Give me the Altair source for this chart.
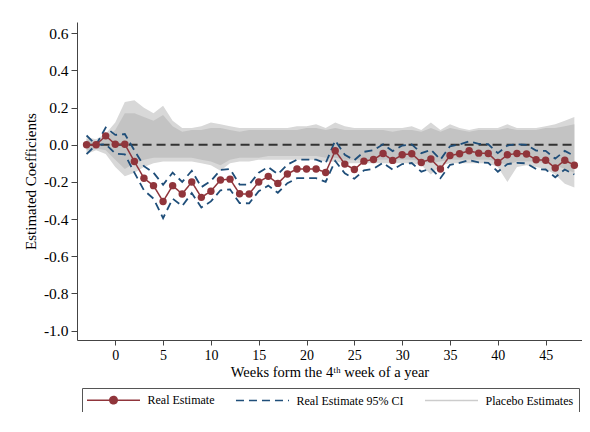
import altair as alt
import pandas as pd

# ---------------- data ----------------
weeks = list(range(-3, 49))

real_estimate = [0.0, 0.0, 0.048, 0.003, 0.003, -0.09, -0.18, -0.22, -0.305, -0.22,
                 -0.265, -0.20, -0.283, -0.25, -0.19, -0.185, -0.264, -0.265, -0.20, -0.17,
                 -0.208, -0.157, -0.13, -0.13, -0.13, -0.149, -0.032, -0.104, -0.133, -0.088,
                 -0.079, -0.047, -0.084, -0.054, -0.048, -0.095, -0.077, -0.13, -0.058, -0.048,
                 -0.032, -0.045, -0.047, -0.095, -0.054, -0.047, -0.05, -0.081, -0.083, -0.125,
                 -0.083, -0.11]

ci_upper = [0.05, 0.0, 0.093, 0.053, 0.058, -0.03, -0.115, -0.15, -0.215, -0.15,
            -0.20, -0.14, -0.228, -0.195, -0.135, -0.13, -0.214, -0.215, -0.15, -0.12,
            -0.158, -0.107, -0.08, -0.08, -0.08, -0.099, 0.023, -0.054, -0.083, -0.038,
            -0.029, 0.003, -0.034, -0.004, 0.002, -0.045, -0.027, -0.08, -0.008, 0.002,
            0.018, 0.005, 0.003, -0.045, -0.004, 0.003, 0.0, -0.031, -0.033, -0.075,
            -0.033, -0.06]

ci_lower = [-0.05, 0.0, 0.003, -0.047, -0.052, -0.15, -0.245, -0.29, -0.395, -0.29,
            -0.33, -0.26, -0.338, -0.305, -0.245, -0.24, -0.314, -0.315, -0.25, -0.22,
            -0.258, -0.207, -0.18, -0.18, -0.18, -0.199, -0.087, -0.154, -0.183, -0.138,
            -0.129, -0.097, -0.134, -0.104, -0.098, -0.145, -0.127, -0.18, -0.108, -0.098,
            -0.082, -0.095, -0.097, -0.145, -0.104, -0.097, -0.10, -0.131, -0.133, -0.175,
            -0.133, -0.16]

# placebo estimates: outer fringe (max/min) and dense band (hi/lo)
placebo_max = [0.04, 0.03, 0.06, 0.12, 0.23, 0.24, 0.20, 0.17, 0.21, 0.13,
               0.09, 0.09, 0.10, 0.12, 0.11, 0.10, 0.09, 0.09, 0.09, 0.09,
               0.09, 0.09, 0.10, 0.10, 0.11, 0.09, 0.12, 0.10, 0.09, 0.09,
               0.09, 0.09, 0.09, 0.09, 0.10, 0.08, 0.12, 0.08, 0.11, 0.09,
               0.08, 0.09, 0.09, 0.09, 0.11, 0.09, 0.09, 0.09, 0.10, 0.11,
               0.13, 0.15]
placebo_hi = [0.03, 0.02, 0.04, 0.08, 0.17, 0.17, 0.15, 0.13, 0.16, 0.10,
              0.07, 0.08, 0.08, 0.09, 0.09, 0.08, 0.07, 0.08, 0.08, 0.08,
              0.08, 0.08, 0.08, 0.09, 0.09, 0.08, 0.09, 0.08, 0.08, 0.08,
              0.08, 0.08, 0.07, 0.08, 0.08, 0.07, 0.09, 0.07, 0.09, 0.08,
              0.07, 0.08, 0.08, 0.08, 0.09, 0.08, 0.08, 0.08, 0.09, 0.09,
              0.10, 0.11]
placebo_lo = [-0.03, -0.02, -0.03, -0.08, -0.13, -0.10, -0.08, -0.07, -0.07, -0.07,
              -0.07, -0.07, -0.08, -0.09, -0.11, -0.08, -0.07, -0.07, -0.07, -0.06,
              -0.06, -0.06, -0.06, -0.06, -0.06, -0.07, -0.07, -0.08, -0.08, -0.08,
              -0.08, -0.08, -0.08, -0.08, -0.08, -0.09, -0.10, -0.09, -0.08, -0.08,
              -0.08, -0.08, -0.08, -0.09, -0.11, -0.09, -0.09, -0.09, -0.10, -0.11,
              -0.13, -0.15]
placebo_min = [-0.05, -0.03, -0.05, -0.12, -0.17, -0.15, -0.12, -0.10, -0.09, -0.09,
               -0.09, -0.09, -0.10, -0.11, -0.14, -0.10, -0.09, -0.09, -0.08, -0.08,
               -0.08, -0.08, -0.08, -0.08, -0.08, -0.09, -0.09, -0.10, -0.10, -0.10,
               -0.10, -0.10, -0.10, -0.10, -0.10, -0.11, -0.16, -0.11, -0.10, -0.10,
               -0.10, -0.10, -0.10, -0.12, -0.20, -0.12, -0.11, -0.12, -0.13, -0.16,
               -0.21, -0.23]

x_ticks = [0, 5, 10, 15, 20, 25, 30, 35, 40, 45]
y_ticks = [-1.0, -0.8, -0.6, -0.4, -0.2, 0.0, 0.2, 0.4, 0.6]
series_names = ["Real Estimate", "Real Estimate 95% CI", "Placebo Estimates"]
zero_span = [-3, 48]

# ---------------- styling ----------------
RED = "#90353b"
NAVY = "#1f4e79"
BAND = "#c3c3c3"
FRINGE = "#d8d8d8"
AXIS = "#444444"
FONT = "Liberation Serif"

band_df = pd.DataFrame({"week": weeks, "pmax": placebo_max, "phi": placebo_hi,
                        "plo": placebo_lo, "pmin": placebo_min})
est_df = pd.DataFrame({"week": weeks, "value": real_estimate, "series": series_names[0]})
ci_df = pd.concat([
    pd.DataFrame({"week": weeks, "value": ci_upper, "bound": "upper"}),
    pd.DataFrame({"week": weeks, "value": ci_lower, "bound": "lower"}),
]).assign(series=series_names[1])

x_scale = alt.Scale(domain=[-4, 48.8], nice=False, zero=False)
y_scale = alt.Scale(domain=[-1.051, 0.661], nice=False, zero=False)

x_axis = alt.Axis(values=x_ticks, title="Weeks form the 4\u1d57\u02b0 week of a year",
                  grid=False, tickSize=5, labelPadding=3, titlePadding=3,
                  labelFontSize=14, titleFontSize=14.5, labelFlush=False)
y_axis = alt.Axis(values=y_ticks, title="Estimated Coefficients", grid=False,
                  tickSize=6, labelPadding=3, titlePadding=5,
                  labelFontSize=15.5, titleFontSize=15,
                  labelExpr="replace(format(datum.value, '.1f'), '\u2212', '-')")

sym_path = ("datum.value === 'Real Estimate' ? "
            "'M-4.42,0H4.42M0.62,0A0.62,0.62 0 1,1 -0.62,0A0.62,0.62 0 1,1 0.62,0Z' : "
            "'M-4.42,0H4.42'")
fill_expr = f"datum.value === 'Real Estimate' ? '{RED}' : 'transparent'"

legend = alt.Legend(
    title=None, orient="none", legendX=5, legendY=366, direction="horizontal",
    symbolType={"expr": sym_path}, symbolFillColor={"expr": fill_expr},
    symbolSize=144, symbolStrokeWidth=1.5, symbolOffset=19.5,
    labelOffset=27, labelFont=FONT, labelFontSize=12, labelColor="black",
    columnPadding=17, padding=5, strokeColor="#555555", fillColor="white",
)

color = alt.Color("series:N", scale=alt.Scale(domain=series_names,
                                              range=[RED, NAVY, "#cccccc"]), legend=legend)
dash = alt.StrokeDash("series:N", scale=alt.Scale(domain=series_names,
                                                  range=[[1, 0], [8, 5], [1, 0]]), legend=legend)

X = alt.X("week:Q", scale=x_scale, axis=x_axis)

fringe = alt.Chart(band_df).mark_area(color=FRINGE, opacity=1).encode(
    x=X, y=alt.Y("pmin:Q", scale=y_scale, axis=y_axis), y2="pmax:Q")
band = alt.Chart(band_df).mark_area(color=BAND, opacity=1).encode(
    x=X, y=alt.Y("plo:Q", scale=y_scale, axis=y_axis), y2="phi:Q")

zero = alt.Chart(pd.DataFrame({"week": zero_span, "value": [0, 0]})).mark_line(
    color="#333333", strokeWidth=2, strokeDash=[9, 5]).encode(
    x=X, y=alt.Y("value:Q", scale=y_scale, axis=y_axis))

ci = alt.Chart(ci_df).mark_line(strokeWidth=1.8).encode(
    x=X, y=alt.Y("value:Q", scale=y_scale, axis=y_axis),
    color=color, strokeDash=dash, detail="bound:N")

est_line = alt.Chart(est_df).mark_line(strokeWidth=1.5).encode(
    x=X, y=alt.Y("value:Q", scale=y_scale, axis=y_axis),
    color=color, strokeDash=dash)

est_pts = alt.Chart(est_df).mark_point(filled=True, size=55, color=RED, opacity=1).encode(
    x=X, y=alt.Y("value:Q", scale=y_scale, axis=y_axis))

chart = alt.layer(fringe, band, zero, ci, est_line, est_pts).properties(
    width=505, height=318,
    autosize=alt.AutoSizeParams(type="none"),
    padding={"left": 69, "top": 14, "right": 0, "bottom": 72},
    background="white",
).configure_view(stroke=None).configure_axis(
    domainColor=AXIS, tickColor=AXIS, labelColor="black", titleColor="black",
    labelFont=FONT, titleFont=FONT, titleFontWeight="normal",
)

chart.save("out.html", embed_options={"renderer": "svg", "actions": False})
